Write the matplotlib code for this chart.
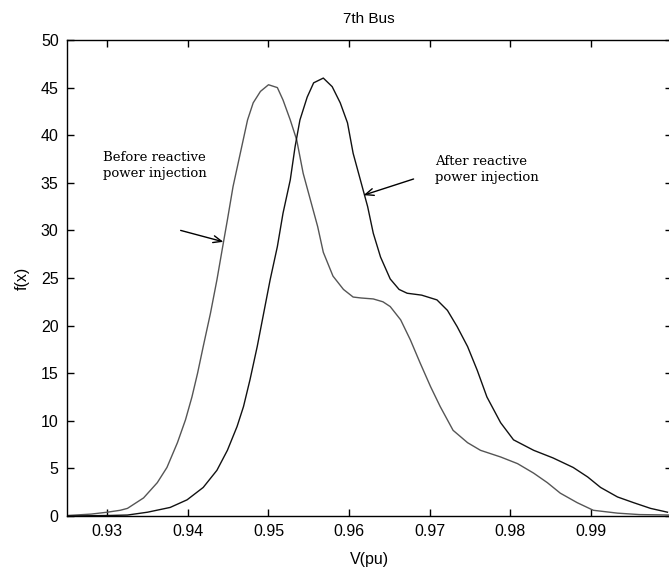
import matplotlib
matplotlib.use("Agg")
import matplotlib.pyplot as plt

# Voltage (pu) and pdf values
v_before = [0.925, 0.928, 0.930, 0.9316, 0.9325, 0.9345, 0.9362, 0.9374, 0.9387,
            0.9397, 0.9405, 0.9412, 0.9419, 0.9428, 0.9436, 0.9444, 0.9449, 0.9456,
            0.9465, 0.9474, 0.9481, 0.9490, 0.9500, 0.9511, 0.9518, 0.9527, 0.9535,
            0.9543, 0.9552, 0.9561, 0.9568, 0.9580, 0.9593, 0.9605, 0.9615, 0.9630,
            0.9642, 0.9651, 0.9664, 0.9676, 0.9688, 0.9701, 0.9713, 0.9729, 0.9747,
            0.9763, 0.9788, 0.9809, 0.9829, 0.9846, 0.9862, 0.9883, 0.9903, 0.9933,
            0.9960, 1.000]
f_before = [0.05, 0.2, 0.4, 0.6, 0.8, 1.9, 3.5, 5.1, 7.7,
            10.1, 12.5, 15.0, 17.8, 21.3, 24.8, 28.7, 31.1, 34.6,
            38.1, 41.6, 43.4, 44.6, 45.3, 45.0, 43.7, 41.6, 39.5,
            36.0, 33.2, 30.4, 27.7, 25.2, 23.8, 23.0, 22.9, 22.8,
            22.5, 22.0, 20.6, 18.5, 16.1, 13.6, 11.5, 9.0, 7.7,
            6.9, 6.2, 5.5, 4.5, 3.5, 2.4, 1.4, 0.6, 0.3,
            0.15, 0.1]

v_after = [0.925, 0.930, 0.9325, 0.9350, 0.9378, 0.9399, 0.9419, 0.9436, 0.9449,
           0.9461, 0.9469, 0.9477, 0.9486, 0.9494, 0.9502, 0.9511, 0.9518, 0.9527,
           0.9533, 0.9539, 0.9548, 0.9556, 0.9568, 0.9579, 0.9589, 0.9598, 0.9605,
           0.9614, 0.9623, 0.9630, 0.9639, 0.9651, 0.9662, 0.9672, 0.9690, 0.9709,
           0.9722, 0.9734, 0.9747, 0.9759, 0.9771, 0.9788, 0.9804, 0.9829, 0.9853,
           0.9878, 0.9896, 0.9912, 0.9933, 0.9953, 0.9974, 0.9995]
f_after = [0.0, 0.05, 0.1, 0.4, 0.9, 1.7, 3.0, 4.8, 6.9,
           9.4, 11.5, 14.3, 17.8, 21.3, 24.8, 28.3, 31.8, 35.3,
           38.8, 41.6, 44.0, 45.5, 46.0, 45.1, 43.4, 41.3, 38.1,
           35.3, 32.5, 29.7, 27.2, 24.9, 23.8, 23.4, 23.2, 22.7,
           21.6, 19.9, 17.8, 15.3, 12.5, 9.8, 8.0, 6.9, 6.1,
           5.1, 4.1, 3.0, 2.0, 1.4, 0.8, 0.4]

x_ticks = [0.93, 0.94, 0.95, 0.96, 0.97, 0.98, 0.99]
y_ticks = [0, 5, 10, 15, 20, 25, 30, 35, 40, 45, 50]

plt.rcParams['font.family'] = ['Liberation Sans', 'DejaVu Sans']

fig = plt.figure(figsize=(6.69, 5.69), dpi=100)
ax = fig.add_axes([67 / 669, 53 / 569, 604.5 / 669, 476 / 569])

ax.plot(v_before, f_before, color='#555555', lw=1.0)
ax.plot(v_after, f_after, color='#111111', lw=1.0)

ax.set_xlim(0.925, 1.0)
ax.set_ylim(0, 50)
ax.set_xticks(x_ticks)
ax.set_xticklabels([f"{t:.2f}" for t in x_ticks])
ax.set_yticks(y_ticks)
ax.tick_params(direction='in', length=5, width=1, top=True, right=True,
               labelsize=11.5, pad=6)
for s in ax.spines.values():
    s.set_linewidth(1.0)

ax.set_title("7th Bus", fontsize=11, pad=12)
ax.set_xlabel("V(pu)", fontsize=11.5, labelpad=9)
ax.set_ylabel("f(x)", fontsize=11.5, labelpad=8)

# annotations
serif = ['DejaVu Serif']
arrow = dict(arrowstyle='->,head_length=0.6,head_width=0.25', color='black',
             lw=1.0, shrinkA=0, shrinkB=0)
ax.annotate("", xy=(0.9444, 28.8), xytext=(0.9391, 30.0), arrowprops=arrow)
ax.text(0.9295, 36.8, "Before reactive\npower injection", fontsize=9.5,
        family=serif, va='center', ha='left', linespacing=1.3)
ax.annotate("", xy=(0.9618, 33.7), xytext=(0.9680, 35.4), arrowprops=arrow)
ax.text(0.9707, 36.4, "After reactive\npower injection", fontsize=9.5,
        family=serif, va='center', ha='left', linespacing=1.3)

fig.savefig("out.png", dpi=100)
